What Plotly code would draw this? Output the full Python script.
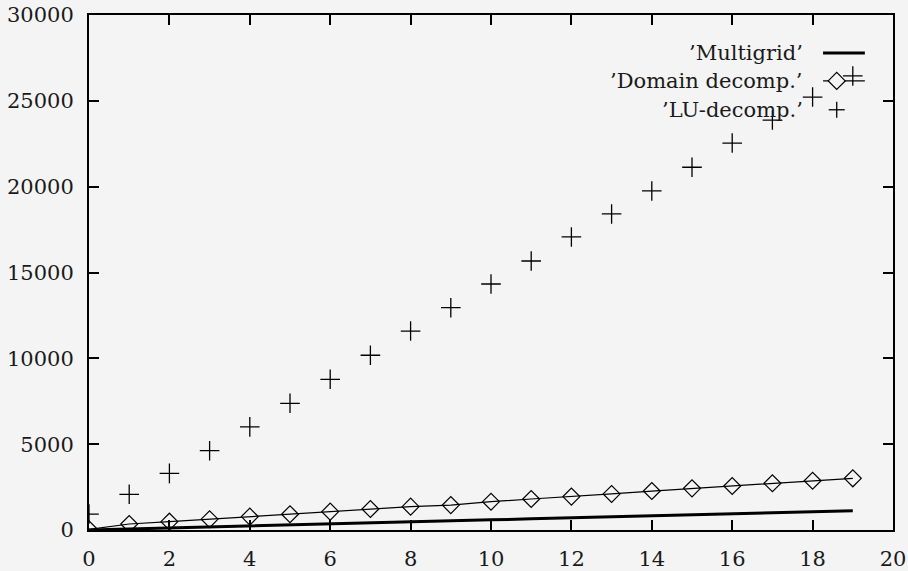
import plotly.graph_objects as go

x_vals = list(range(20))
multigrid = [0, 55, 115, 175, 235, 290, 350, 410, 470, 530, 590, 650, 710, 765, 825, 885, 945, 1005, 1065, 1120]
domain = [40, 350, 485, 630, 780, 920, 1070, 1225, 1360, 1450, 1650, 1805, 1945, 2100, 2270, 2425, 2565, 2720, 2870, 3010]
lu = [930, 2080, 3300, 4620, 6010, 7380, 8780, 10180, 11590, 12950, 14330, 15670, 17070, 18410, 19750, 21130, 22540, 23880, 25220, 26450]
series_names = ["\u2019Multigrid\u2019", "\u2019Domain decomp.\u2019", "\u2019LU-decomp.\u2019"]
x_ticks = list(range(0, 21, 2))
y_ticks = list(range(0, 30001, 5000))

FONT = "DejaVu Serif"
FS = 21
BG = "#f4f4f4"

fig = go.Figure()
fig.add_trace(go.Scatter(x=x_vals, y=multigrid, mode="lines", name=series_names[0],
                         line=dict(color="black", width=3), showlegend=False))
fig.add_trace(go.Scatter(x=x_vals, y=domain, mode="lines+markers", name=series_names[1],
                         line=dict(color="black", width=1.2),
                         marker=dict(symbol="diamond-open", size=13, color="black", line=dict(width=1.2)),
                         showlegend=False))
fig.add_trace(go.Scatter(x=x_vals, y=lu, mode="markers", name=series_names[2],
                         marker=dict(symbol="cross-thin-open", size=14, color="black", line=dict(width=1.3, color="black")),
                         showlegend=False))

key_y = [0.926, 0.872, 0.816]
for name, ky in zip(series_names, key_y):
    fig.add_annotation(x=0.891, y=ky, xref="paper", yref="paper", text=name, showarrow=False,
                       xanchor="right", yanchor="middle", font=dict(family=FONT, size=FS, color="#1a1a1a"))

shapes = []
shapes.append(dict(type="line", xref="paper", yref="paper", x0=0.913, x1=0.965, y0=key_y[0], y1=key_y[0],
                   line=dict(color="black", width=3)))
shapes.append(dict(type="line", xref="paper", yref="paper", x0=0.913, x1=0.965, y0=key_y[1], y1=key_y[1],
                   line=dict(color="black", width=1.2)))
cx, cy = 0.93, key_y[1]
dx, dy = 8.5 / 804, 8.5 / 515
shapes.append(dict(type="path", xref="paper", yref="paper",
                   path=f"M {cx-dx},{cy} L {cx},{cy+dy} L {cx+dx},{cy} L {cx},{cy-dy} Z",
                   line=dict(color="black", width=1.2), fillcolor=BG))
px, py = 0.93, key_y[2]
hx, hy = 8 / 804, 8 / 515
shapes.append(dict(type="line", xref="paper", yref="paper", x0=px-hx, x1=px+hx, y0=py, y1=py,
                   line=dict(color="black", width=1.3)))
shapes.append(dict(type="line", xref="paper", yref="paper", x0=px, x1=px, y0=py-hy, y1=py+hy,
                   line=dict(color="black", width=1.3)))

fig.update_layout(
    width=908, height=571,
    margin=dict(l=89, r=15, t=15, b=41),
    paper_bgcolor=BG, plot_bgcolor=BG,
    font=dict(family=FONT, size=FS, color="#1a1a1a"),
    shapes=shapes,
    showlegend=False,
)
fig.update_xaxes(range=[0, 20], tickvals=x_ticks, ticktext=[str(v) for v in x_ticks],
                 showgrid=False, zeroline=False, showline=True, linecolor="black", linewidth=2,
                 mirror="allticks", ticks="inside", ticklen=10, tickwidth=2, tickcolor="black",
                 ticklabelstandoff=9, automargin=False,
                 tickfont=dict(family=FONT, size=FS, color="#1a1a1a"))
fig.update_yaxes(range=[0, 30000], tickvals=y_ticks, ticktext=[str(v) for v in y_ticks],
                 showgrid=False, zeroline=False, showline=True, linecolor="black", linewidth=2,
                 mirror="allticks", ticks="inside", ticklen=10, tickwidth=2, tickcolor="black",
                 ticklabelstandoff=9, automargin=False,
                 tickfont=dict(family=FONT, size=FS, color="#1a1a1a"))

fig.write_html("out.html", config={"displayModeBar": False},
               post_script="document.body.style.margin='0px';document.body.style.background='#f4f4f4';")
